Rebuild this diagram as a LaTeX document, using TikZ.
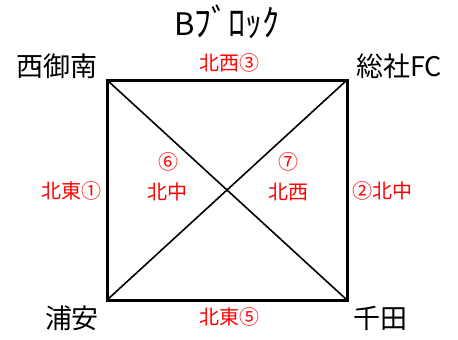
\documentclass[tikz,border=0pt]{standalone}
\usepackage{fontspec}
\usepackage{graphicx}
\newfontfamily\jp{Noto Sans CJK JP}
\begin{document}
\begin{tikzpicture}[x=1pt,y=-1pt,
  team/.style={font=\jp\fontsize{27}{27}\selectfont, text=black, inner sep=0pt},
  game/.style={font=\jp\fontsize{20}{20}\selectfont, text=red, inner sep=0pt},
  edge/.style={line width=3pt},
  diag/.style={line width=1.6pt}]
\useasboundingbox (0,0) rectangle (458,340);
\coordinate (tl) at (107,80);
\coordinate (tr) at (347,80);
\coordinate (bl) at (107,300);
\coordinate (br) at (347,300);
\draw[diag] (tl) -- (br);
\draw[diag] (tr) -- (bl);
\draw[edge, line join=miter] (tl) -- (tr) -- (br) -- (bl) -- cycle;
\node[font=\jp\fontsize{31}{31}\selectfont, inner sep=0pt, anchor=base] (title) at (227,35) {B\raisebox{-1.5pt}{\scalebox{1.1}[1.2]{ﾌﾞﾛｯｸ}}};
\node[team] (nw) at (57,66) {西御南};
\node[team] (ne) at (399,66) {総社FC};
\node[team] (sw) at (72,318) {浦安};
\node[team] (se) at (380,318) {千田};
\node[game] (g3) at (229,63) {北西③};
\node[game] (g1) at (71,191) {北東①};
\node[game] (g2) at (382,191) {②北中};
\node[game] (g5) at (229,317) {北東⑤};
\node[game] (g6n) at (168,162) {⑥};
\node[game] (g6) at (167,192) {北中};
\node[game] (g7n) at (288,162) {⑦};
\node[game] (g7) at (288,192) {北西};
\end{tikzpicture}
\end{document}
